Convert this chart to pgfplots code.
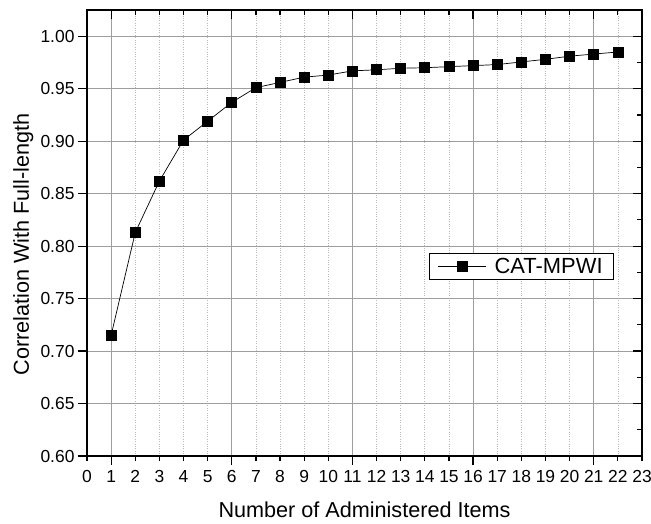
\documentclass[border=0pt]{standalone}
\usepackage{pgfplots}
\pgfplotsset{compat=1.18}
\usepackage{fontspec}
\setmainfont{Liberation Sans}
\definecolor{majgrid}{gray}{0.62}
\definecolor{mingrid}{gray}{0.72}

\pgfplotstableread{
x y
1 0.715
2 0.813
3 0.862
4 0.901
5 0.919
6 0.937
7 0.951
8 0.956
9 0.961
10 0.963
11 0.967
12 0.968
13 0.9695
14 0.970
15 0.971
16 0.972
17 0.973
18 0.9755
19 0.978
20 0.981
21 0.983
22 0.985
}\datatable

\begin{document}
\begin{tikzpicture}
\pgfplotsset{
  common/.style={
    width=555bp, height=446bp, scale only axis,
    xmin=0, xmax=23, ymin=0.6, ymax=1.025,
    axis line style={line width=1.6bp, black},
    every tick/.style={black, line width=1.2bp},
    /pgf/number format/assume math mode=true,
  }
}
\begin{axis}[common,
  tick pos=left, tick align=outside,
  major tick length=5bp,
  xtick={0,...,23},
  ytick={0.60,0.65,0.70,0.75,0.80,0.85,0.90,0.95,1.00},
  yticklabel style={/pgf/number format/fixed, /pgf/number format/fixed zerofill, /pgf/number format/precision=2, xshift=-4bp},
  ticklabel style={font=\fontsize{17.5}{20}\selectfont},
  xticklabel style={yshift=-6bp},
  xmajorgrids, major grid style={dotted, mingrid, line width=0.7bp},
  extra x ticks={1,6,11,16,21}, extra x tick labels={},
  extra y ticks={0.60,0.65,0.70,0.75,0.80,0.85,0.90,0.95,1.00}, extra y tick labels={},
  extra tick style={major tick length=9bp, grid=major, major grid style={solid, majgrid, line width=1bp}},
  xlabel={Number of Administered Items},
  ylabel={Correlation With Full-length},
  label style={font=\fontsize{21.7}{24}\selectfont},
  xlabel style={at={(axis description cs:0.5,-0.095)}, anchor=north},
  ylabel style={at={(axis description cs:-0.115,0.474)}, anchor=center},
  legend style={at={(0.9495,0.425)}, anchor=east, draw=black, line width=0.8bp,
    font=\fontsize{22}{24}\selectfont, inner xsep=9bp, inner ysep=3bp},
  legend image code/.code={\draw[mark repeat=2,mark phase=2] plot coordinates {(0bp,0bp)(24bp,0bp)(48bp,0bp)}; \path (54bp,0bp);},
]
\addplot[black, line width=0.7bp, mark=square*, mark size=5bp, mark options={solid, fill=black}] table[x=x,y=y] {\datatable};
\addlegendentry{CAT-MPWI}
\coordinate (sw) at (rel axis cs:0,0);
\coordinate (ne) at (rel axis cs:1,1);
\end{axis}
\begin{axis}[common,
  tick pos=right, tick align=inside,
  major tick length=9bp, minor tick length=5bp,
  xtick={1,6,11,16,21}, minor xtick={0,...,23},
  ytick={0.60,0.65,0.70,0.75,0.80,0.85,0.90,0.95,1.00},
  minor ytick={0.625,0.675,0.725,0.775,0.825,0.875,0.925,0.975,1.025},
  xticklabels={}, yticklabels={},
]
\end{axis}
\pgfresetboundingbox
\path ([xshift=-87bp,yshift=-68bp]sw) rectangle ([xshift=9bp,yshift=10bp]ne);
\end{tikzpicture}
\end{document}
